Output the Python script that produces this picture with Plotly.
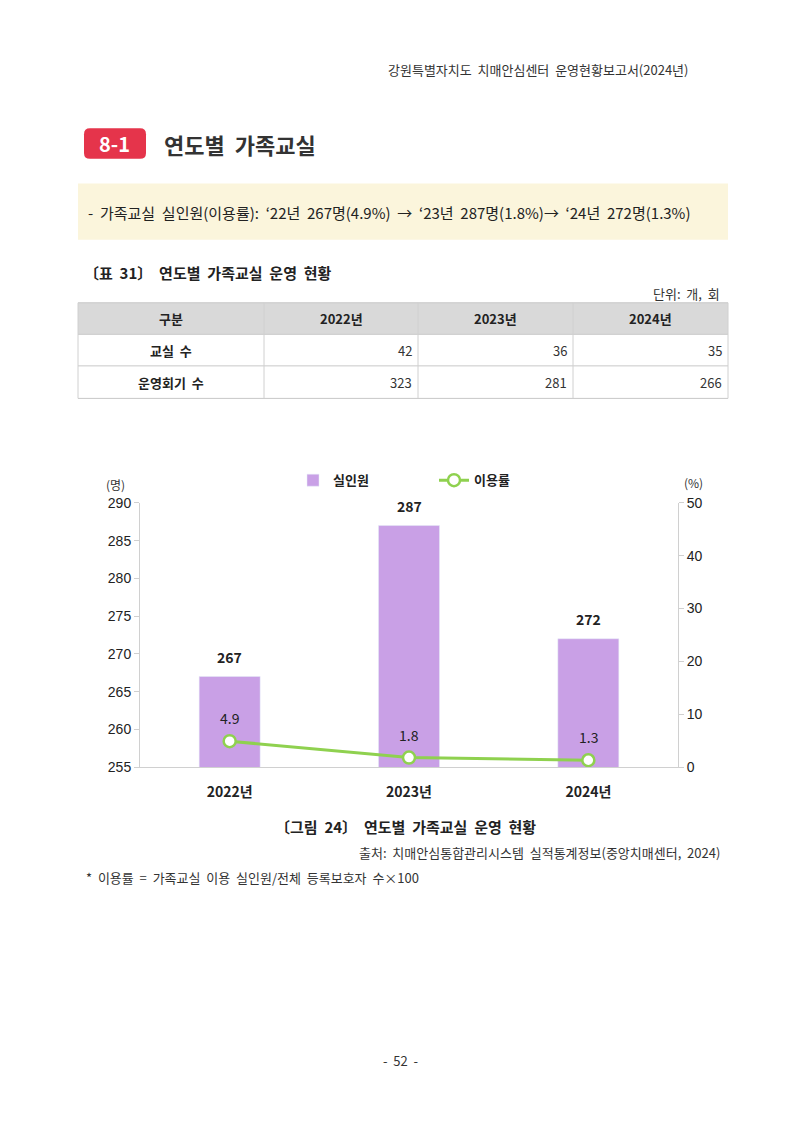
import plotly.graph_objects as go

W, H = 800, 1131
def X(px): return px / W
def Y(py): return 1 - py / H

FONT = "Noto Sans CJK KR"
NB = "\u00a0"

# ---- data ----
years = ["2022년", "2023년", "2024년"]
participants = [267, 287, 272]          # 실인원 (명)
usage_rate = [4.9, 1.8, 1.3]            # 이용률 (%)

table_header = ["구분", "2022년", "2023년", "2024년"]
row_labels = ["교실 수", "운영회기 수"]
classrooms = [42, 36, 35]
sessions = [323, 281, 266]

fig = go.Figure()

# ---- chart ----
fig.add_trace(go.Bar(
    x=years, y=participants, name="실인원",
    marker=dict(color="#c9a0e6"),
    cliponaxis=False, width=0.34,
))
fig.add_trace(go.Scatter(
    x=years, y=usage_rate, name="이용률", yaxis="y2",
    mode="lines+markers",
    line=dict(color="#8fd14f", width=3),
    marker=dict(size=12, color="white", line=dict(color="#8fd14f", width=2.5)),
    cliponaxis=False,
))
for xv, yv in zip(years, participants):
    fig.add_annotation(x=xv, y=yv, xref="x", yref="y", text=f"<b>{yv}</b>",
                       showarrow=False, yshift=20, yanchor="middle",
                       font=dict(family=FONT, size=14, color="#222"))
for xv, yv in zip(years, usage_rate):
    fig.add_annotation(x=xv, y=yv, xref="x", yref="y2", text=f"{yv}",
                       showarrow=False, yshift=23, yanchor="middle",
                       font=dict(family=FONT, size=14, color="#222"))

fig.update_layout(
    width=W, height=H, margin=dict(l=0, r=0, t=0, b=0),
    paper_bgcolor="white", plot_bgcolor="white",
    font=dict(family=FONT, color="#222"),
    xaxis=dict(domain=[X(140), X(678)], showline=True, linecolor="#d0d0d0",
               linewidth=1, ticks="", showgrid=False, ticklabelstandoff=12,
               tickfont=dict(family=FONT, size=14, color="#222", weight="bold")),
    yaxis=dict(domain=[Y(770), Y(502)], range=[255, 290], dtick=5,
               showgrid=False, showline=True, linecolor="#d0d0d0",
               ticks="outside", ticklen=5, tickcolor="#d0d0d0",
               zeroline=False,
               tickfont=dict(family="Liberation Sans", size=14, color="#222")),
    yaxis2=dict(overlaying="y", side="right", range=[0, 50], dtick=10,
                showgrid=False, showline=True, linecolor="#d0d0d0",
                ticks="outside", ticklen=5, tickcolor="#d0d0d0",
                zeroline=False,
                tickfont=dict(family="Liberation Sans", size=14, color="#222")),
    bargap=0.66,
    showlegend=True,
    legend=dict(orientation="h", x=X(293), xanchor="left",
                y=Y(479), yanchor="middle", entrywidth=96,
                font=dict(family=FONT, size=13, color="#222", weight="bold"),
                bgcolor="rgba(0,0,0,0)"),
)

# ---- page decorations ----
def rpath(x0, y0, x1, y1, r):
    rx, ry = r / W, r / H
    a, b, c, d = X(x0), Y(y0), X(x1), Y(y1)
    return (f"M {a+rx},{b} L {c-rx},{b} Q {c},{b} {c},{b-ry} "
            f"L {c},{d+ry} Q {c},{d} {c-rx},{d} L {a+rx},{d} "
            f"Q {a},{d} {a},{d+ry} L {a},{b-ry} Q {a},{b} {a+rx},{b} Z")

shapes = [
    dict(type="path", xref="paper", yref="paper", path=rpath(84, 122, 146, 153, 6),
         fillcolor="#e5344b", line=dict(width=0), layer="below"),
    dict(type="rect", xref="paper", yref="paper",
         x0=X(78), x1=X(728), y0=Y(235), y1=Y(178),
         fillcolor="#fbf5dc", line=dict(width=0), layer="below"),
]

# ---- table (cells built from the data lists) ----
col_edges = [78, 264, 418, 573, 728]
row_edges = [299, 331, 363, 396]
shapes.append(dict(type="rect", xref="paper", yref="paper",
                   x0=X(col_edges[0]), x1=X(col_edges[-1]),
                   y0=Y(row_edges[1]), y1=Y(row_edges[0]),
                   fillcolor="#d9d9d9", line=dict(width=0), layer="below"))
for ry in row_edges:
    shapes.append(dict(type="line", xref="paper", yref="paper",
                       x0=X(col_edges[0]), x1=X(col_edges[-1]), y0=Y(ry), y1=Y(ry),
                       line=dict(color="#c8c8c8", width=1)))
for cx in col_edges:
    shapes.append(dict(type="line", xref="paper", yref="paper",
                       x0=X(cx), x1=X(cx), y0=Y(row_edges[0]), y1=Y(row_edges[-1]),
                       line=dict(color="#d0d0d0", width=1)))
fig.update_layout(shapes=shapes)

def txt(x, y, s, size=12, anchor="left", bold=False, color="#333", wide=False):
    if wide:
        s = s.replace(" ", " " + NB)
    fig.add_annotation(x=X(x), y=Y(y), xref="paper", yref="paper",
                       text=f"<b>{s}</b>" if bold else s, showarrow=False,
                       xanchor=anchor, yanchor="middle",
                       font=dict(family=FONT, size=size, color=color))

for i, h in enumerate(table_header):
    txt((col_edges[i] + col_edges[i + 1]) / 2, (row_edges[0] + row_edges[1]) / 2,
        h, 13, "center", True, "#222")
table_rows = [classrooms, sessions]
for r, (lab, vals) in enumerate(zip(row_labels, table_rows)):
    cy = (row_edges[r + 1] + row_edges[r + 2]) / 2
    txt((col_edges[0] + col_edges[1]) / 2, cy, lab, 13, "center", True, "#222", wide=True)
    for j, v in enumerate(vals):
        txt(col_edges[j + 2] - 4, cy, str(v), 13, "right", False, "#333")

txt(690, 62, "강원특별자치도 치매안심센터 운영현황보고서(2024년)", 13, "right", color="#333", wide=True)
txt(115, 137, "8-1", 20, "center", True, "white")
txt(162, 138, "연도별 가족교실", 22, "left", True, "#333", wide=True)
txt(86, 207, "- 가족교실 실인원(이용률): ‘22년 267명(4.9%) → ‘23년 287명(1.8%)→ ‘24년 272명(1.3%)",
    15, "left", color="#222", wide=True)
txt(82, 268, "〔표 31〕 연도별 가족교실 운영 현황", 15, "left", True, "#222", wide=True)
txt(722, 290, "단위: 개, 회", 13, "right", color="#333", wide=True)
txt(116, 483, "(명)", 12, "center", color="#333")
txt(693, 481, "(%)", 12, "center", color="#333")
txt(405, 830, "〔그림 24〕 연도별 가족교실 운영 현황", 15, "center", True, "#222", wide=True)
txt(722, 857, "출처: 치매안심통합관리시스템 실적통계정보(중앙치매센터, 2024)", 13, "right", color="#333", wide=True)
txt(84, 882, "* 이용률 = 가족교실 이용 실인원/전체 등록보호자 수×100", 13, "left", color="#333", wide=True)
txt(400, 1068, "- 52 -", 13, "center", color="#333", wide=True)

fig.write_html("out.html")
